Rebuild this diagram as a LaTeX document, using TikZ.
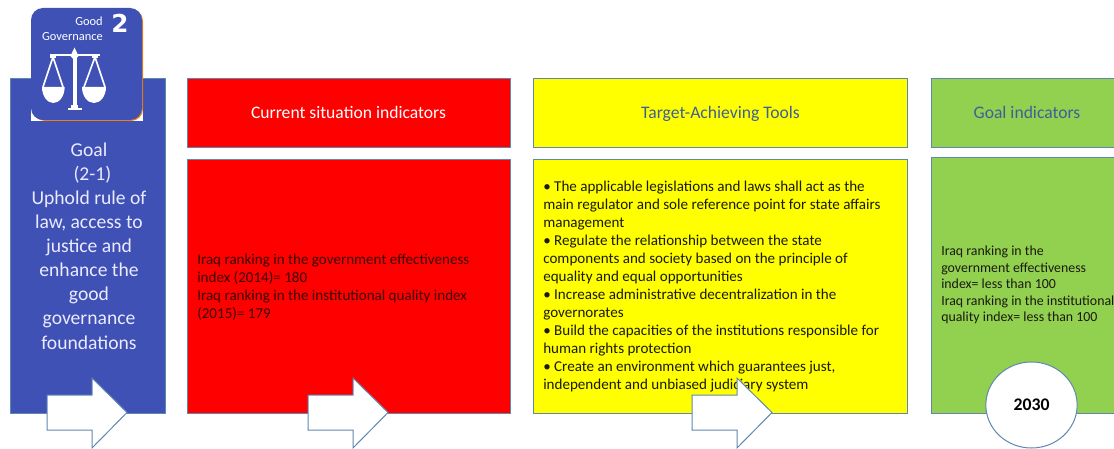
\documentclass[tikz,border=0pt]{standalone}
\usepackage{fontspec}
\usetikzlibrary{shapes.geometric}
\setmainfont{Carlito}
\newfontfamily\twofont[BoldFont={DejaVu Sans Bold}]{DejaVu Sans}
\definecolor{gblue}{HTML}{3F51B5}
\definecolor{edge}{HTML}{5F88B0}
\definecolor{ggreen}{HTML}{92D050}
\definecolor{txtblue}{HTML}{3F5F99}
\definecolor{pure yellow}{HTML}{FFFF00}
\definecolor{pure red}{HTML}{FF0000}
\definecolor{redtxt}{HTML}{3A0505}
\definecolor{bodytxt}{HTML}{1A1A10}
\tikzset{
  panel/.style={draw=edge,line width=0.75pt},
  hdr/.style={font=\fontsize{13.2}{15}\selectfont,anchor=base},
  body/.style={font=\fontsize{11.3}{13.5}\selectfont,anchor=west,align=left,text=bodytxt,inner sep=0pt},
  arrowshape/.style={draw=edge,fill=white,line width=0.75pt,line join=miter},
}
\newcommand{\blockarrow}[1]{%
  \draw[arrowshape,shift={(#1,0)}] (0,395) -- (45,395) -- (45,378) -- (80,412.5) -- (45,448) -- (45,430) -- (0,430) -- cycle;}
\begin{document}
\begin{tikzpicture}[x=0.75pt,y=-0.75pt]
\useasboundingbox (0,0) rectangle (1114,449);
% panels
\path[panel,fill=gblue] (10,79) rectangle (165,413);
\path[panel,fill=pure red] (187,79) rectangle (510,148);
\path[panel,fill=pure red] (187,160) rectangle (510,413);
\path[panel,fill=pure yellow] (533,79) rectangle (907,148);
\path[panel,fill=pure yellow] (533,160) rectangle (907,413);
\path[panel,fill=ggreen] (931,79) rectangle (1116,148);
\path[panel,fill=ggreen] (931,158) rectangle (1116,413);
% icon
\fill[white] (31,100) rectangle (143,121);
\fill[rounded corners=9pt,fill=orange!70!brown] (33,9) rectangle (143,121);
\fill[rounded corners=9pt,fill=gblue] (31,8) rectangle (142,120);
\node[text=white,font=\fontsize{9.3}{11.2}\selectfont,align=right,inner sep=0pt,anchor=east] (icontext) at (103,28.5) {Good\hspace{2.2pt}\\Governance};
\node[text=white,font=\twofont\fontsize{18.5}{20}\selectfont\bfseries,inner sep=0pt] (icontwo) at (120,23) {2};
\begin{scope}[white]
  \fill (72.5,56) rectangle (76.5,108);
  \fill (68,108) rectangle (82,110.5);
  \fill (71,105.5) rectangle (78,108);
  \fill (74.5,47.5) -- (78.5,56) -- (74.5,60.5) -- (70.5,56) -- cycle;
  \fill (50,54) rectangle (99.5,56.5);
  \fill (50,55) rectangle (56,58);
  \fill (92,55) rectangle (98,58);
  \draw[line width=1.2pt] (53,57) -- (43,87) (53,57) -- (63,87);
  \draw[line width=1.2pt] (95,57) -- (84,87) (95,57) -- (105,87);
  \fill (42,87) arc[start angle=180,end angle=360,x radius=8.5pt,y radius=12pt] -- cycle;
  \fill (82,87) arc[start angle=180,end angle=360,x radius=9pt,y radius=12pt] -- cycle;
\end{scope}
% goal text
\node[text=white!92!blue,font=\fontsize{14.7}{18.05}\selectfont,align=center,inner sep=0pt] (goal) at (89,246)
 {Goal\\ \hspace*{.35em}(2-1)\\Uphold rule of\\law, access to\\justice and\\enhance the\\good\\governance\\foundations};
% headers
\node[hdr,text=white] (h1) at (348.5,119) {Current situation indicators};
\node[hdr,text=txtblue] (h2) at (720.5,119) {Target-Achieving Tools};
\node[hdr,text=txtblue] (h3) at (1027,119) {Goal indicators};
% bodies
\node[body,text=redtxt] (b1) at (197,287) {Iraq ranking in the government effectiveness\\index (2014)= 180\\Iraq ranking in the institutional quality index\\(2015)= 179};
\node[body] (b2) at (543,286.5) {• The applicable legislations and laws shall act as the\\main regulator and sole reference point for state affairs\\management\\• Regulate the relationship between the state\\components and society based on the principle of\\equality and equal opportunities\\• Increase administrative decentralization in the\\governorates\\• Build the capacities of the institutions responsible for\\human rights protection\\• Create an environment which guarantees just,\\independent and unbiased judiciary system};
\node[body,font=\fontsize{10.4}{12.4}\selectfont] (b3) at (941,285) {Iraq ranking in the\\government effectiveness\\index= less than 100\\Iraq ranking in the institutional\\quality index= less than 100};
% arrows
\blockarrow{47}
\blockarrow{308}
\blockarrow{692}
% circle
\node[draw=edge,fill=white,line width=0.75pt,ellipse,minimum width=68.5pt,minimum height=64.5pt,inner sep=0pt,font=\fontsize{13.3}{15}\selectfont\bfseries] (y2030) at (1031.5,405) {2030};
\end{tikzpicture}
\end{document}
